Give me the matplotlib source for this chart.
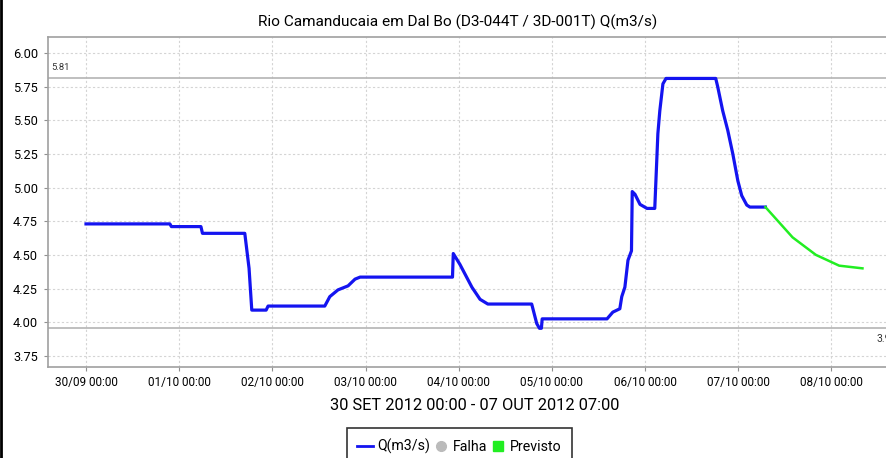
import numpy as np
import matplotlib
matplotlib.use("Agg")
import matplotlib.pyplot as plt
import matplotlib.dates as mdates
from matplotlib.lines import Line2D
from datetime import datetime, timedelta

plt.rcParams['font.family'] = ['Roboto', 'DejaVu Sans']

"""
Data: hours since 30/09/2012 00:00 and flow Q (m3/s)
"""
base = datetime(2012, 9, 30, 0, 0)

obs_hours = [0, 21.6, 22, 29.6, 30, 40.9, 42, 42.7, 46.4, 46.9, 61.5, 62.8, 64.9, 67.5,
             69.3, 70.6, 94.4, 94.6, 96.3, 99.4, 101.5, 103.5, 114.8, 116.1, 116.8, 117.3,
             117.5, 134.2, 135.7, 137.5, 138.0, 138.8, 139.6, 140.5, 140.7, 141.4, 142.7,
             144.5, 146.5, 147.3, 147.8, 148.6, 149.4, 162.2, 162.7, 164.0, 165.3, 166.6,
             167.9, 168.9, 170.2, 171.0, 175.0]
obs_q = [4.73, 4.73, 4.71, 4.71, 4.66, 4.66, 4.40, 4.09, 4.09, 4.12, 4.12, 4.19, 4.24, 4.27,
         4.32, 4.335, 4.335, 4.51, 4.43, 4.26, 4.17, 4.135, 4.135, 3.99, 3.955, 3.955,
         4.025, 4.025, 4.075, 4.10, 4.19, 4.26, 4.46, 4.53, 4.97, 4.95, 4.875,
         4.845, 4.845, 5.40, 5.57, 5.77, 5.81, 5.81, 5.75, 5.57, 5.425, 5.25,
         5.05, 4.94, 4.87, 4.855, 4.855]

prev_hours = [175.0, 182.0, 188.0, 194.0, 200.0]
prev_q = [4.855, 4.63, 4.50, 4.42, 4.40]

q_max = 5.81
q_min = 3.96

obs_t = [base + timedelta(hours=h) for h in obs_hours]
prev_t = [base + timedelta(hours=h) for h in prev_hours]

"""
Plotting
"""
fig = plt.figure(figsize=(8.87, 4.58), dpi=100)
ax = fig.add_axes([0.0538, 0.1994, 0.9575, 0.7205])

ax.plot(obs_t, obs_q, color='#1414f0', linewidth=2.3, solid_joinstyle='round', zorder=4)
ax.plot(prev_t, prev_q, color='#22ee22', linewidth=1.8, zorder=4)

# threshold markers
ax.axhline(q_max, color='#b4b4b4', linewidth=1.2, zorder=2)
ax.axhline(q_min, color='#b4b4b4', linewidth=1.2, zorder=2)
ax.text(0.004, q_max + 0.05, '5.81', transform=ax.get_yaxis_transform(),
        fontsize=6.8, color='#333333', va='bottom', ha='left')
ax.text(0.9995, q_min - 0.045, '3.96', transform=ax.get_yaxis_transform(),
        fontsize=7.5, color='#333333', va='top', ha='right')

ax.set_xlim(base - timedelta(hours=9.86), base + timedelta(hours=208.9))
ax.set_ylim(3.67, 6.12)
ax.set_yticks(np.arange(3.75, 6.01, 0.25))
ax.yaxis.set_major_formatter(plt.FuncFormatter(lambda v, p: f'{v:.2f}'))
ax.xaxis.set_major_locator(mdates.DayLocator())
ax.xaxis.set_major_formatter(mdates.DateFormatter('%d/%m %H:%M'))

ax.grid(True, color='#d4d4d4', linestyle=(0, (2, 2)), linewidth=0.8)
ax.set_axisbelow(True)
ax.spines['right'].set_visible(False)
for s in ['left', 'bottom', 'top']:
    ax.spines[s].set_color('#a0a0a0')
    ax.spines[s].set_linewidth(1.2)
ax.tick_params(axis='y', labelsize=9.2, length=3, width=0.8, color='#909090', pad=4)
ax.tick_params(axis='x', labelsize=8.5, length=3, width=0.8, color='#909090', pad=3.8)

ax.set_title('Rio Camanducaia em Dal Bo (D3-044T / 3D-001T) Q(m3/s)', fontsize=11.1,
             pad=7, x=0.483)
ax.set_xlabel('30 SET 2012 00:00 - 07 OUT 2012 07:00', fontsize=11.8)
ax.xaxis.set_label_coords(0.503, -0.095)

handles = [Line2D([], [], color='#1414f0', linewidth=2),
           Line2D([], [], color='#bbbbbb', marker='o', linestyle='none', markersize=7),
           Line2D([], [], color='#22ee22', marker='s', linestyle='none', markersize=6.5)]
leg = fig.legend(handles, ['Q(m3/s)', 'Falha', 'Previsto'], loc='upper center',
                 bbox_to_anchor=(0.518, 0.0655), ncol=3, fontsize=10.2, frameon=True,
                 fancybox=False, edgecolor='black', handlelength=1.1, handletextpad=0.3,
                 columnspacing=0.2, borderpad=0.75, borderaxespad=0)
leg.get_frame().set_linewidth(1.2)

# black edge on the left of the picture
fig.add_artist(Line2D([0.001, 0.001], [0, 1], color='black', linewidth=2,
                      transform=fig.transFigure))

fig.savefig('out.png', dpi=100)
